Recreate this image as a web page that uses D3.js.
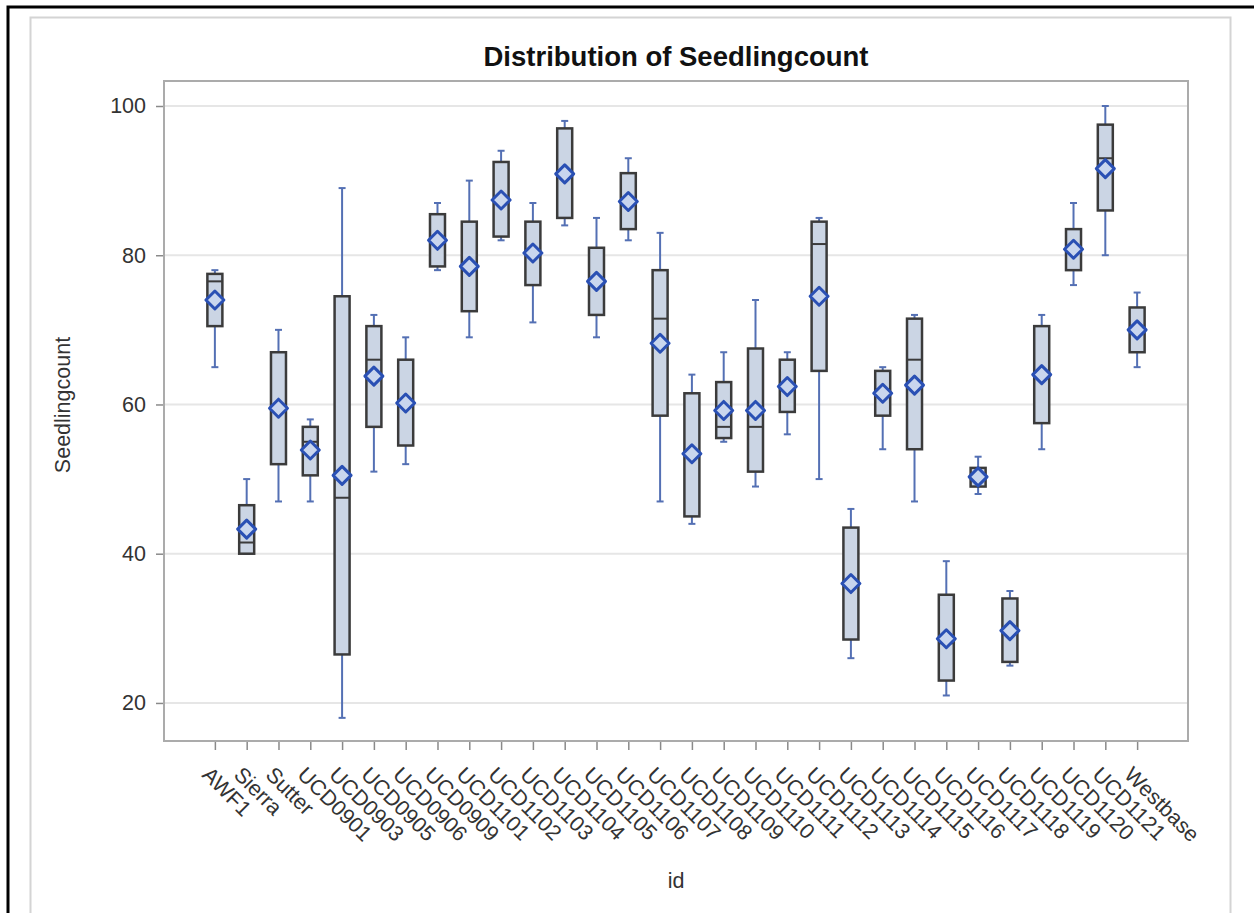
<!DOCTYPE html>
<html>
<head>
<meta charset="utf-8">
<script src="https://cdn.jsdelivr.net/npm/d3@7"></script>
<style>
  body { margin: 0; background: #fff; }
  svg { display: block; font-family: "Liberation Sans", Arial, sans-serif; }
</style>
</head>
<body>
<svg class="vis" width="1254" height="913"></svg>
<script>
// box plot data
var ids = ["AWF1", "Sierra", "Sutter", "UCD0901", "UCD0903", "UCD0905", "UCD0906", "UCD0909",
    "UCD1101", "UCD1102", "UCD1103", "UCD1104", "UCD1105", "UCD1106", "UCD1107", "UCD1108",
    "UCD1109", "UCD1110", "UCD1111", "UCD1112", "UCD1113", "UCD1114", "UCD1115", "UCD1116",
    "UCD1117", "UCD1118", "UCD1119", "UCD1120", "UCD1121", "Westbase"];
var whiskerLow = [65, 40, 47, 47, 18, 51, 52, 78, 69, 82, 71, 84, 69, 82, 47, 44, 55, 49, 56, 50, 26, 54, 47, 21, 48, 25, 54, 76, 80, 65];
var q1 = [70.5, 40, 52, 50.5, 26.5, 57, 54.5, 78.5, 72.5, 82.5, 76, 85, 72, 83.5, 58.5, 45, 55.5, 51, 59, 64.5, 28.5, 58.5, 54, 23, 49, 25.5, 57.5, 78, 86, 67];
var median = [76.5, 41.5, 59.5, 55, 47.5, 66, 60, 82, 78, 87, 80.5, 91, 76.5, 87, 71.5, 53, 57, 57, 62.5, 81.5, 36, 62, 66, 28, 50, 29.5, 64, 80.5, 93, 70];
var q3 = [77.5, 46.5, 67, 57, 74.5, 70.5, 66, 85.5, 84.5, 92.5, 84.5, 97, 81, 91, 78, 61.5, 63, 67.5, 66, 84.5, 43.5, 64.5, 71.5, 34.5, 51.5, 34, 70.5, 83.5, 97.5, 73];
var whiskerHigh = [78, 50, 70, 58, 89, 72, 69, 87, 90, 94, 87, 98, 85, 93, 83, 64, 67, 74, 67, 85, 46, 65, 72, 39, 53, 35, 72, 87, 100, 75];
var means = [74, 43.3, 59.5, 53.9, 50.5, 63.8, 60.2, 82, 78.5, 87.4, 80.3, 90.9, 76.5, 87.2, 68.2, 53.4, 59.2, 59.2, 62.4, 74.5, 36, 61.5, 62.6, 28.6, 50.3, 29.7, 64, 80.8, 91.6, 70];
var yTicks = [20, 40, 60, 80, 100];

var data = ids.map(function (d, i) {
    return { id: d, lo: whiskerLow[i], q1: q1[i], med: median[i], q3: q3[i], hi: whiskerHigh[i], mean: means[i] };
});

var svg = d3.select(".vis");

// frames
svg.append("rect")
    .attr("x", 30.5).attr("y", 17.5)
    .attr("width", 1200).attr("height", 900)
    .attr("fill", "#fff")
    .attr("stroke", "#d4d4d4")
    .attr("stroke-width", 2);
svg.append("path")
    .attr("d", "M8,920 V7 H1260")
    .attr("fill", "none")
    .attr("stroke", "#000")
    .attr("stroke-width", 3);

var plot = { left: 164, right: 1188, top: 81, bottom: 741 };

var x = d3.scalePoint()
    .domain(ids)
    .range([plot.left, plot.right])
    .padding(1.6);

var y = d3.scaleLinear()
    .domain([14.9, 103.35])
    .range([plot.bottom, plot.top]);

// gridlines
svg.append("g")
    .selectAll("line")
    .data(yTicks)
    .join("line")
    .attr("x1", plot.left).attr("x2", plot.right)
    .attr("y1", function (d) { return y(d); })
    .attr("y2", function (d) { return y(d); })
    .attr("stroke", "#e6e6e6")
    .attr("stroke-width", 2);

// y axis
var yAxis = svg.append("g")
    .attr("transform", `translate(${plot.left}, 0)`)
    .call(d3.axisLeft(y).tickValues(yTicks).tickSize(8).tickPadding(10));
yAxis.select(".domain").remove();
yAxis.selectAll(".tick line").attr("stroke", "#8a8a8a").attr("stroke-width", 1.5);
yAxis.selectAll(".tick text")
    .attr("font-size", "21.5px")
    .attr("font-family", "Liberation Sans, Arial, sans-serif")
    .attr("fill", "#333");

// x axis
var xAxis = svg.append("g")
    .attr("transform", `translate(0, ${plot.bottom})`)
    .call(d3.axisBottom(x).tickSize(9).tickFormat(""));
xAxis.select(".domain").remove();
xAxis.selectAll(".tick line").attr("stroke", "#8a8a8a").attr("stroke-width", 1.5);

svg.append("g")
    .selectAll("text")
    .data(ids)
    .join("text")
    .attr("transform", function (d) { return `translate(${x(d) - 14}, 776) rotate(45)`; })
    .attr("font-size", "21.5px")
    .attr("fill", "#333")
    .text(function (d) { return d; });

// plot border
svg.append("rect")
    .attr("x", plot.left).attr("y", plot.top)
    .attr("width", plot.right - plot.left)
    .attr("height", plot.bottom - plot.top)
    .attr("fill", "none")
    .attr("stroke", "#ababab")
    .attr("stroke-width", 2);

// boxes
var boxW = 15, capW = 7, dia = 9;
var g = svg.append("g")
    .selectAll("g")
    .data(data)
    .join("g");

g.append("line")
    .attr("x1", function (d) { return x(d.id); })
    .attr("x2", function (d) { return x(d.id); })
    .attr("y1", function (d) { return y(d.lo); })
    .attr("y2", function (d) { return y(d.hi); })
    .attr("stroke", "#5470b4")
    .attr("stroke-width", 2);

g.selectAll(".cap")
    .data(function (d) { return [{ id: d.id, v: d.lo }, { id: d.id, v: d.hi }]; })
    .join("line")
    .attr("class", "cap")
    .attr("x1", function (d) { return x(d.id) - capW / 2; })
    .attr("x2", function (d) { return x(d.id) + capW / 2; })
    .attr("y1", function (d) { return y(d.v); })
    .attr("y2", function (d) { return y(d.v); })
    .attr("stroke", "#5470b4")
    .attr("stroke-width", 2);

g.append("rect")
    .attr("x", function (d) { return x(d.id) - boxW / 2; })
    .attr("y", function (d) { return y(d.q3); })
    .attr("width", boxW)
    .attr("height", function (d) { return y(d.q1) - y(d.q3); })
    .attr("fill", "#cbd5e4")
    .attr("stroke", "#3b3b3b")
    .attr("stroke-width", 2.5);

g.append("line")
    .attr("x1", function (d) { return x(d.id) - boxW / 2; })
    .attr("x2", function (d) { return x(d.id) + boxW / 2; })
    .attr("y1", function (d) { return y(d.med); })
    .attr("y2", function (d) { return y(d.med); })
    .attr("stroke", "#3b3b3b")
    .attr("stroke-width", 2);

g.append("path")
    .attr("d", function (d) {
        var cx = x(d.id), cy = y(d.mean);
        return `M${cx},${cy - dia} L${cx + dia},${cy} L${cx},${cy + dia} L${cx - dia},${cy} Z`;
    })
    .attr("fill", "#c9d6ee")
    .attr("stroke", "#2a50b4")
    .attr("stroke-width", 3)
    .attr("stroke-linejoin", "round");

// titles
svg.append("text")
    .attr("x", (plot.left + plot.right) / 2)
    .attr("y", 66)
    .attr("text-anchor", "middle")
    .attr("font-size", "27.5px")
    .attr("font-weight", "bold")
    .attr("fill", "#111")
    .text("Distribution of Seedlingcount");

svg.append("text")
    .attr("transform", "translate(70, 405) rotate(-90)")
    .attr("text-anchor", "middle")
    .attr("font-size", "21.5px")
    .attr("fill", "#333")
    .text("Seedlingcount");

svg.append("text")
    .attr("x", 676)
    .attr("y", 888)
    .attr("text-anchor", "middle")
    .attr("font-size", "21.5px")
    .attr("fill", "#333")
    .text("id");
</script>
</body>
</html>
